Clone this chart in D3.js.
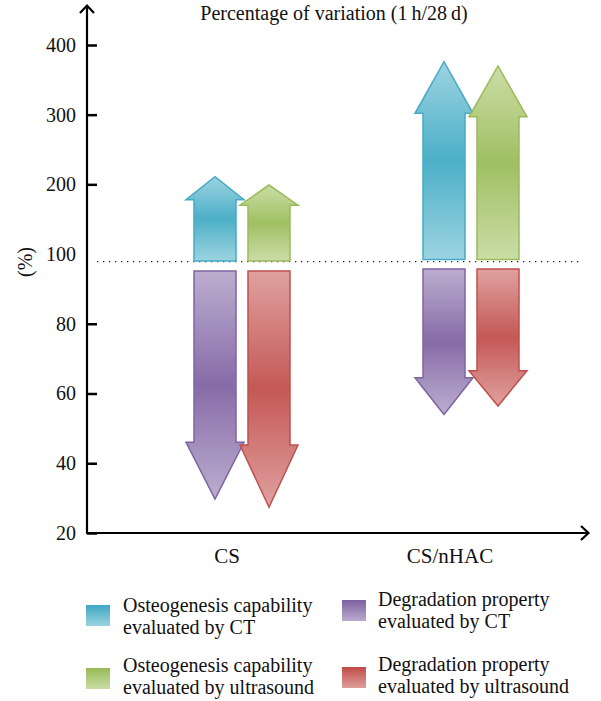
<!DOCTYPE html>
<html>
<head>
<meta charset="utf-8">
<script src="https://cdn.jsdelivr.net/npm/d3@7"></script>
<style>
  body { margin: 0; background: #fff; }
  svg text { font-family: "Liberation Serif", "DejaVu Serif", serif; fill: #111; }
</style>
</head>
<body>
<div id="chart"></div>
<script>
// Categories and series names
var categories = ["CS", "CS/nHAC"];
var seriesNames = [
    ["Osteogenesis capability", "evaluated by CT"],
    ["Osteogenesis capability", "evaluated by ultrasound"],
    ["Degradation property", "evaluated by CT"],
    ["Degradation property", "evaluated by ultrasound"]
];
var yTicks = [20, 40, 60, 80, 100, 200, 300, 400];

// Arrow tips (percentage of variation) per category
var osteoCT = [211, 376];
var osteoUS = [199, 370];
var degrCT = [29.7, 54];
var degrUS = [27.4, 56.4];

// Where each arrow head begins (value at the neck of the arrow)
var osteoCTNeck = [178, 302];
var osteoUSNeck = [170, 297];
var degrCTNeck = [46, 64.5];
var degrUSNeck = [45.2, 66.5];

// Arrow start values
var upStart = [98, 98.4];
var downStart = [95.1, 95.7];
var baseline = 97.8;

var width = 601, height = 701;

var svg = d3.select("#chart").append("svg")
    .attr("width", width)
    .attr("height", height);

// Broken y scale: 20-100 in the lower half, 100-400 in the upper half
var y = d3.scaleLinear()
    .domain([20, 100, 400])
    .range([533, 254, 45]);

// Category positions for arrows
var x = d3.scalePoint()
    .domain(categories)
    .range([242, 471]);

// Inner position: CT arrow left, ultrasound arrow right
var inner = d3.scalePoint()
    .domain(["CT", "US"])
    .range([-27, 27]);

var colors = [
    { light: "#94d0de", dark: "#3da8c3", stroke: "#46aac5" },
    { light: "#c6da9f", dark: "#98ba55", stroke: "#9bbb59" },
    { light: "#b6a6cb", dark: "#7c5fa0", stroke: "#8064a2" },
    { light: "#dc9997", dark: "#bf4a47", stroke: "#c0504d" }
];

// gradients (light at ends, saturated middle)
var defs = svg.append("defs");
colors.forEach(function(c, i) {
    var g = defs.append("linearGradient")
        .attr("id", "grad" + i)
        .attr("x1", 0).attr("y1", 0).attr("x2", 0).attr("y2", 1);
    g.append("stop").attr("offset", "0%").attr("stop-color", c.light);
    g.append("stop").attr("offset", "50%").attr("stop-color", c.dark);
    g.append("stop").attr("offset", "100%").attr("stop-color", c.light);
    var l = defs.append("linearGradient")
        .attr("id", "lgrad" + i)
        .attr("x1", 0).attr("y1", 0).attr("x2", 0).attr("y2", 1);
    l.append("stop").attr("offset", "0%").attr("stop-color", c.dark);
    l.append("stop").attr("offset", "100%").attr("stop-color", c.light).attr("stop-opacity", 0.95);
});

// Build arrow records
var arrows = [];
categories.forEach(function(cat, i) {
    arrows.push({ cat: cat, sub: "CT", start: upStart[i], neck: osteoCTNeck[i], tip: osteoCT[i], ci: 0 });
    arrows.push({ cat: cat, sub: "US", start: upStart[i], neck: osteoUSNeck[i], tip: osteoUS[i], ci: 1 });
    arrows.push({ cat: cat, sub: "CT", start: downStart[i], neck: degrCTNeck[i], tip: degrCT[i], ci: 2 });
    arrows.push({ cat: cat, sub: "US", start: downStart[i], neck: degrUSNeck[i], tip: degrUS[i], ci: 3 });
});

var shaftW = 42, headW = 58;

function arrowPath(d) {
    var cx = x(d.cat) + inner(d.sub);
    var b = y(d.start), n = y(d.neck), t = y(d.tip);
    return "M" + (cx - shaftW / 2) + "," + b +
        "L" + (cx - shaftW / 2) + "," + n +
        "L" + (cx - headW / 2) + "," + n +
        "L" + cx + "," + t +
        "L" + (cx + headW / 2) + "," + n +
        "L" + (cx + shaftW / 2) + "," + n +
        "L" + (cx + shaftW / 2) + "," + b + "Z";
}

// Dotted baseline
svg.append("line")
    .attr("x1", 97).attr("x2", 580)
    .attr("y1", y(baseline)).attr("y2", y(baseline))
    .attr("stroke", "#222")
    .attr("stroke-width", 1.3)
    .attr("stroke-dasharray", "1.3,4.7");

svg.selectAll(".arrow")
    .data(arrows)
    .enter().append("path")
    .attr("class", "arrow")
    .attr("d", arrowPath)
    .attr("fill", function(d) { return "url(#grad" + d.ci + ")"; })
    .attr("fill-opacity", 0.92)
    .attr("stroke", function(d) { return colors[d.ci].stroke; })
    .attr("stroke-width", 1.5)
    .attr("stroke-linejoin", "miter");

// Y axis with inward ticks
var yAxis = svg.append("g")
    .attr("transform", "translate(87,0)")
    .call(d3.axisLeft(y).tickValues(yTicks).tickSizeInner(-10).tickSizeOuter(0).tickPadding(11).tickFormat(d3.format("d")))
    .attr("font-family", "'Liberation Serif', serif")
    .attr("font-size", 20);
yAxis.select(".domain").remove();
yAxis.selectAll(".tick line").attr("stroke", "#000").attr("stroke-width", 2.5)
    .filter(function(d) { return d === 100; }).remove();
yAxis.selectAll(".tick text")
    .style("font-size", "20px")
    .style("font-family", "'Liberation Serif', serif")
    .attr("fill", "#111");

// Axis lines with open arrow heads
svg.append("path")
    .attr("d", "M87,533V6M80,13L87,5.5L94,13")
    .attr("fill", "none").attr("stroke", "#000").attr("stroke-width", 2.2);
svg.append("path")
    .attr("d", "M86,533H588M581,526L588.5,533L581,540")
    .attr("fill", "none").attr("stroke", "#000").attr("stroke-width", 2.2);

// Category labels
svg.selectAll(".cat-label")
    .data(categories)
    .enter().append("text")
    .attr("class", "cat-label")
    .attr("x", function(d, i) { return x(d) - (i === 0 ? 15 : 21); })
    .attr("y", 563)
    .attr("text-anchor", "middle")
    .style("font-size", "21px")
    .text(function(d) { return d; });

// Title
svg.append("text")
    .attr("x", 334)
    .attr("y", 20)
    .attr("text-anchor", "middle")
    .style("font-size", "20px")
    .text("Percentage of variation (1\u2009h/28\u2009d)");

// Y axis label
svg.append("text")
    .attr("transform", "translate(32,262) rotate(-90)")
    .attr("text-anchor", "middle")
    .style("font-size", "20px")
    .text("(%)");

// Legend
var legendPos = [
    { x: 86, y: 605, tx: 123, ty: 612 },
    { x: 86, y: 668, tx: 123, ty: 672 },
    { x: 342, y: 600, tx: 378, ty: 606 },
    { x: 342, y: 667, tx: 378, ty: 671 }
];
var legend = svg.append("g").attr("class", "legend");
var item = legend.selectAll(".legend-item")
    .data(seriesNames)
    .enter().append("g")
    .attr("class", "legend-item");

item.append("rect")
    .attr("x", function(d, i) { return legendPos[i].x; })
    .attr("y", function(d, i) { return legendPos[i].y; })
    .attr("width", 24)
    .attr("height", 21)
    .attr("fill", function(d, i) { return "url(#lgrad" + i + ")"; });

item.append("text")
    .attr("x", function(d, i) { return legendPos[i].tx; })
    .attr("y", function(d, i) { return legendPos[i].ty; })
    .style("font-size", "20px")
    .each(function(d) {
        var t = d3.select(this);
        d.forEach(function(line, k) {
            t.append("tspan")
                .attr("x", t.attr("x"))
                .attr("dy", k === 0 ? 0 : 22)
                .text(line);
        });
    });
</script>
</body>
</html>
